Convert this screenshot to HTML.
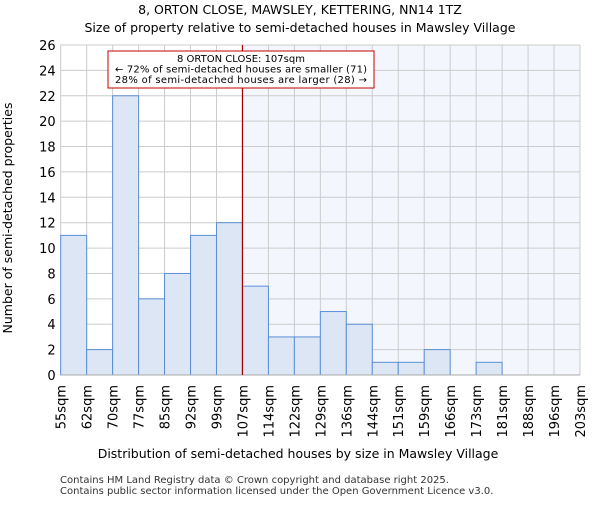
<!DOCTYPE html>
<html><head><meta charset="utf-8"><style>body{margin:0;background:#fff}svg{font-family:"DejaVu Sans","Liberation Sans",sans-serif}</style></head>
<body>
<svg id="c" width="600" height="500">
<text x="300" y="14" text-anchor="middle" font-size="12.5">8, ORTON CLOSE, MAWSLEY, KETTERING, NN14 1TZ</text>
<text x="300" y="32" text-anchor="middle" font-size="12.5">Size of property relative to semi-detached houses in Mawsley Village</text>
<g id="g"></g>
<text x="298" y="458" text-anchor="middle" font-size="12.5">Distribution of semi-detached houses by size in Mawsley Village</text>
<text transform="translate(12,218) rotate(-90)" text-anchor="middle" font-size="12.5">Number of semi-detached properties</text>
<text x="60" y="483" font-size="10" fill="#333">Contains HM Land Registry data © Crown copyright and database right 2025.</text>
<text x="60" y="494" font-size="10" fill="#333">Contains public sector information licensed under the Open Government Licence v3.0.</text>
</svg>
<script>
const binLabels=["55sqm","62sqm","70sqm","77sqm","85sqm","92sqm","99sqm","107sqm","114sqm","122sqm","129sqm","136sqm","144sqm","151sqm","159sqm","166sqm","173sqm","181sqm","188sqm","196sqm","203sqm"];
const counts=[11,2,22,6,8,11,12,7,3,3,5,4,1,1,2,0,1,0,0,0];
const yTicks=[0,2,4,6,8,10,12,14,16,18,20,22,24,26];
const markerBin=7;
const L=60.7,R=580,T=45,B=375,yMax=26;
const bw=(R-L)/counts.length;
const x=i=>L+i*bw, y=v=>B-(v/yMax)*(B-T);
const g=document.getElementById('g');const NS='http://www.w3.org/2000/svg';
function mk(t,a){const e=document.createElementNS(NS,t);for(const k in a)e.setAttribute(k,a[k]);g.appendChild(e);return e;}
let e=mk('rect',{x:x(markerBin),y:T,width:R-x(markerBin),height:B-T,fill:'#f3f6fd'});


yTicks.forEach(v=>{let l=mk('line',{x1:L,x2:R,y1:y(v),y2:y(v),stroke:'#ccc'});


let t=mk('text',{x:L-5,y:y(v)+5,'text-anchor':'end','font-size':13});t.textContent=v;

});
binLabels.forEach((s,i)=>{let l=mk('line',{x1:x(i),x2:x(i),y1:T,y2:B,stroke:'#ccc'});


let t=mk('text',{transform:`translate(${x(i)+5},385) rotate(-90)`,'text-anchor':'end','font-size':13});t.textContent=s;

});
counts.forEach((v,i)=>{if(!v)return;let r=mk('rect',{x:x(i),y:y(v),width:bw,height:B-y(v),fill:'#dce6f4',stroke:'#5b8fd6','stroke-width':1});

});
e=mk('line',{x1:L,x2:R,y1:B,y2:B,stroke:'#aaa'});


e=mk('line',{x1:x(markerBin),x2:x(markerBin),y1:T,y2:B,stroke:'#a00000','stroke-width':1.2});


e=mk('rect',{x:108,y:51,width:266,height:37,fill:'#fff',stroke:'#c00000'});


["8 ORTON CLOSE: 107sqm","← 72% of semi-detached houses are smaller (71)","28% of semi-detached houses are larger (28) →"].forEach((s,k)=>{let t=mk('text',{x:241,y:62+k*10.5,'text-anchor':'middle','font-size':10,textLength:k?252:0});if(!k)t.removeAttribute('textLength');t.textContent=s;

});
</script>
</body></html>
